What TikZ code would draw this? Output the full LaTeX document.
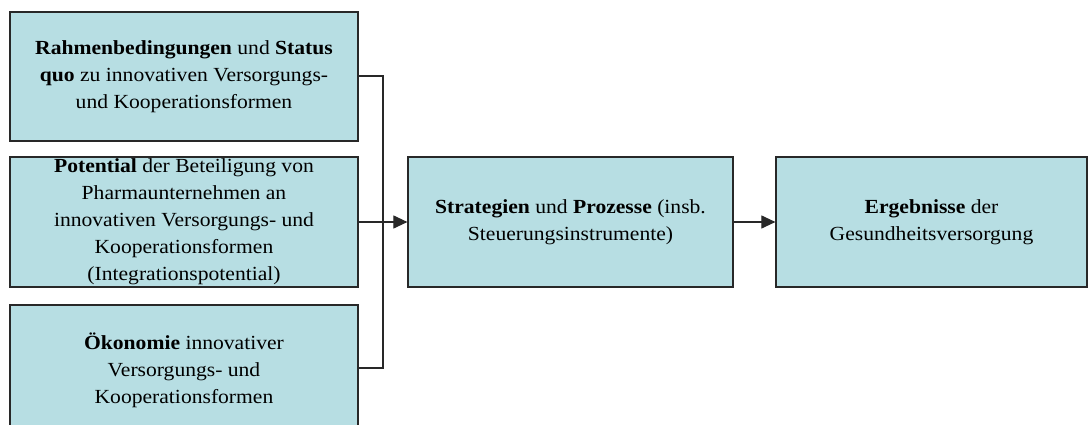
\documentclass[tikz,border=0pt]{standalone}
\usepackage{fontspec}
\setmainfont[FakeStretch=1.08]{Liberation Serif}
\usetikzlibrary{arrows.meta}
\definecolor{boxfill}{RGB}{183,222,227}
\definecolor{boxline}{RGB}{40,40,40}
\tikzset{
  box/.style={draw=boxline, line width=1.2pt, fill=boxfill, align=center,
    inner sep=0pt, font=\fontsize{20}{27}\selectfont},
  link/.style={draw=boxline, line width=1.1pt},
  flow/.style={link, -{Triangle[length=14pt, width=13pt]}},
}
\begin{document}
\begin{tikzpicture}[x=1pt, y=-1pt]
  \useasboundingbox (0,0) rectangle (1090,425);
  \begin{scope}
    \clip (0,0) rectangle (1090,425);
    % input boxes on the left
    \node[box, minimum width=348pt, minimum height=129pt] (rahmen) at (184,76.5)
      {\textbf{Rahmenbedingungen} und \textbf{Status}\\
       \textbf{quo} zu innovativen Versorgungs-\\
       und Kooperationsformen};
    \node[box, minimum width=348pt, minimum height=130pt] (potential) at (184,222)
      {\textbf{Potential} der Beteiligung von\\
       Pharmaunternehmen an\\
       innovativen Versorgungs- und\\
       Kooperationsformen\\
       (Integrationspotential)};
    \node[box, minimum width=348pt, minimum height=130pt] (oekonomie) at (184,370)
      {\textbf{Ökonomie} innovativer\\
       Versorgungs- und\\
       Kooperationsformen};
    % process and result boxes
    \node[box, minimum width=325pt, minimum height=130pt] (strategien) at (570.5,222)
      {\textbf{Strategien} und \textbf{Prozesse} (insb.\\
       Steuerungsinstrumente)};
    \node[box, minimum width=311pt, minimum height=130pt] (ergebnisse) at (931.5,222)
      {\textbf{Ergebnisse} der\\
       Gesundheitsversorgung};
    % bracket collecting the three inputs
    \coordinate (bus) at (383,0);
    \draw[link] (rahmen.east |- 0,76) -- (bus |- 0,76) -- (bus |- 0,368)
      -- (oekonomie.east |- 0,368);
    \draw[flow] (potential.east) -- (strategien.west);
    \draw[flow] (strategien.east) -- (ergebnisse.west);
  \end{scope}
\end{tikzpicture}
\end{document}
